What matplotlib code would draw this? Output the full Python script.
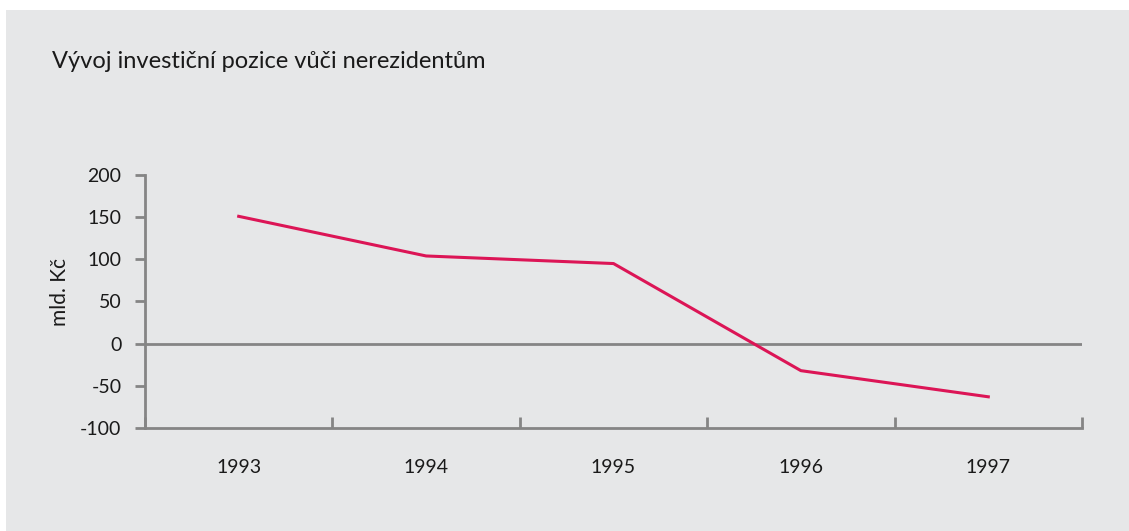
import numpy as np
import matplotlib
matplotlib.use('Agg')
import matplotlib.pyplot as plt
from matplotlib.patches import Rectangle

plt.rcParams['font.family'] = ['Lato', 'DejaVu Sans']

years = ['1993', '1994', '1995', '1996', '1997']
pozice = [151, 104, 95, -32, -63]
yticks = [-100, -50, 0, 50, 100, 150, 200]

W, H = 1129, 531
fig = plt.figure(figsize=(W/100, H/100), dpi=100)
fig.patch.set_facecolor('white')
# grey panel behind everything
fig.patches.append(Rectangle((6/W, 0), 1 - 6/W, (H - 10)/H, transform=fig.transFigure,
                             facecolor='#e6e7e8', edgecolor='none', zorder=-10))

ax = fig.add_axes([145/W, (H - 428)/H, (1082 - 145)/W, (428 - 175)/H])
ax.set_facecolor('none')
ax.set_zorder(5)

x = np.arange(len(years))
ax.plot(x, pozice, color='#dc1556', lw=2.2, zorder=3)
ax.axhline(0, color='#858585', lw=2, zorder=2)

ax.set_xlim(-0.5, len(years) - 0.5)
ax.set_ylim(-100, 200)
ax.set_yticks(yticks)
ax.set_yticklabels([str(v) for v in yticks])
ax.set_xticks(x)
ax.set_xticklabels(years)
ax.set_xticks(np.arange(len(years) + 1) - 0.5, minor=True)

for s in ['top', 'right']:
    ax.spines[s].set_visible(False)
for s in ['left', 'bottom']:
    ax.spines[s].set_color('#858585')
    ax.spines[s].set_linewidth(2)

ax.tick_params(axis='y', direction='out', length=7, width=2, color='#858585',
               labelsize=14, labelcolor='#1a1a1a', pad=10)
ax.tick_params(axis='x', which='major', length=0, labelsize=14, labelcolor='#1a1a1a', pad=22)
ax.tick_params(axis='x', which='minor', direction='in', length=8, width=2, color='#858585')

ax.set_ylabel('mld. Kč', fontsize=15, color='#1a1a1a')
ax.yaxis.set_label_coords(-0.080, 0.5375)

fig.text(52/W, (H - 68)/H, 'Vývoj investiční pozice vůči nerezidentům', fontsize=17,
         color='#1a1a1a', va='baseline', ha='left')

fig.savefig('out.png', dpi=100, facecolor=fig.get_facecolor())
